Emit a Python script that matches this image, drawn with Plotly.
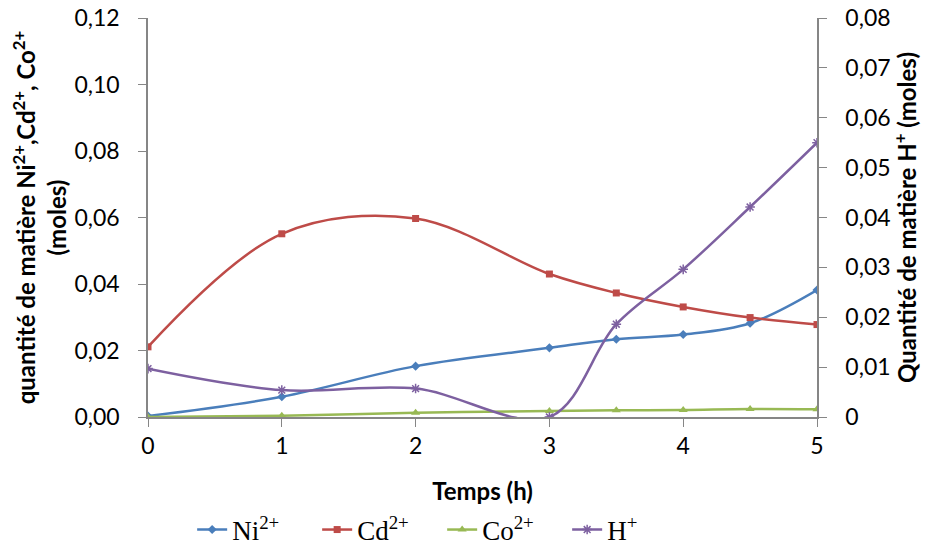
import plotly.graph_objects as go

temps = [0, 1, 2, 3, 3.5, 4, 4.5, 5]
ni = [0.0003, 0.0061, 0.0153, 0.0208, 0.0234, 0.0248, 0.0282, 0.0382]
cd = [0.0211, 0.0551, 0.0597, 0.0430, 0.0373, 0.0331, 0.0299, 0.0278]
co = [0.0000, 0.0004, 0.0013, 0.0018, 0.0020, 0.0021, 0.0024, 0.0023]
h = [0.0097, 0.0054, 0.0057, 0.0000, 0.0186, 0.0296, 0.0421, 0.0550]

left_ticks = [0, 0.02, 0.04, 0.06, 0.08, 0.10, 0.12]
left_labels = ["0,00", "0,02", "0,04", "0,06", "0,08", "0,10", "0,12"]
right_ticks = [0, 0.01, 0.02, 0.03, 0.04, 0.05, 0.06, 0.07, 0.08]
right_labels = ["0", "0,01", "0,02", "0,03", "0,04", "0,05", "0,06", "0,07", "0,08"]
x_ticks = [0, 1, 2, 3, 4, 5]

fig = go.Figure()
fig.add_trace(go.Scatter(x=temps, y=ni, name="Ni<sup>2+</sup>", mode="lines+markers",
                         line=dict(color="#4A7EBB", width=2.5, shape="spline"),
                         marker=dict(symbol="diamond", size=7, color="#4A7EBB")))
fig.add_trace(go.Scatter(x=temps, y=cd, name="Cd<sup>2+</sup>", mode="lines+markers",
                         line=dict(color="#BE4B48", width=2.5, shape="spline"),
                         marker=dict(symbol="square", size=7, color="#BE4B48")))
fig.add_trace(go.Scatter(x=temps, y=co, name="Co<sup>2+</sup>", mode="lines+markers",
                         line=dict(color="#98B954", width=2.5, shape="spline"),
                         marker=dict(symbol="triangle-up", size=8, color="#98B954")))
fig.add_trace(go.Scatter(x=temps, y=h, name="H<sup>+</sup>", mode="lines+markers", yaxis="y2",
                         line=dict(color="#7D60A0", width=2.5, shape="spline"),
                         marker=dict(symbol="asterisk-open", size=8, color="#7D60A0",
                                     line=dict(color="#7D60A0", width=1.5))))

axis_common = dict(showgrid=False, zeroline=False, showline=True, linecolor="#868686",
                   linewidth=1.5, ticks="outside", ticklen=8, tickcolor="#868686",
                   automargin=False, ticklabeloverflow="allow",
                   tickfont=dict(family="Lato", size=23, color="#000000"))

title_font = dict(family="Lato", size=24, color="#000")

fig.update_layout(
    width=913, height=532,
    paper_bgcolor="white", plot_bgcolor="white",
    margin=dict(l=140, r=104, t=10, b=123),
    xaxis=dict(range=[0, 5], tickvals=x_ticks, ticktext=[str(v) for v in x_ticks],
               ticklabelstandoff=0,
               title=dict(text="<b>Temps (h)</b>", font=title_font, standoff=28),
               **axis_common),
    yaxis=dict(range=[0, 0.12], tickvals=left_ticks, ticktext=left_labels,
               ticklabelstandoff=14,
               title=dict(text="<b>quantité de matière Ni<sup>2+</sup>,Cd<sup>2+</sup>, Co<sup>2+</sup><br>(moles)</b>",
                          font=title_font, standoff=6),
               **axis_common),
    yaxis2=dict(range=[0, 0.08], tickvals=right_ticks, ticktext=right_labels,
                overlaying="y", side="right", ticklabelstandoff=14,
                title=dict(text="<b>Quantité de matière H<sup>+</sup> (moles)</b>",
                           font=title_font, standoff=14),
                **axis_common),
    legend=dict(orientation="h", x=0.066, xanchor="left", xref="paper",
                y=0.0188, yanchor="middle", yref="container",
                font=dict(family="Liberation Serif", size=27, color="#000"),
                entrywidth=80, entrywidthmode="pixels", tracegroupgap=0),
    showlegend=True,
)

fig.write_html("out.html")
